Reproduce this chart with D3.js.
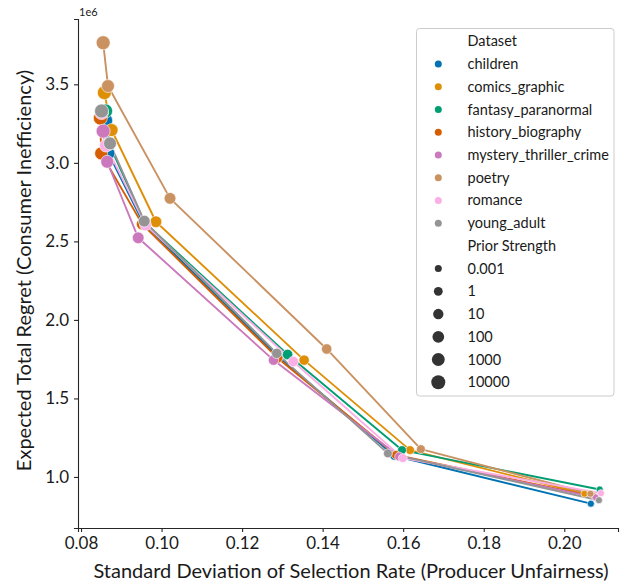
<!DOCTYPE html>
<html>
<head>
<meta charset="utf-8">
<script src="https://cdn.jsdelivr.net/npm/d3@7"></script>
<style>
  html, body { margin: 0; padding: 0; background: #fff; }
  svg { display: block; font-family: Lato, "DejaVu Sans", sans-serif; }
</style>
</head>
<body>
<svg id="chart" width="622" height="583"></svg>
<script>
// Datasets (hue order) and their colours
const datasets = ["children", "comics_graphic", "fantasy_paranormal", "history_biography",
                  "mystery_thriller_crime", "poetry", "romance", "young_adult"];
const palette = ["#0173b2", "#de8f05", "#029e73", "#d55e00",
                 "#cc78bc", "#ca9161", "#fbafe4", "#949494"];

// Prior strengths (size levels); each series below is listed in this order
const priorStrengths = ["0.001", "1", "10", "100", "1000", "10000"];

// Std. dev. of selection rate (producer unfairness)
const stdChildren  = [0.2066, 0.1578, 0.1290, 0.0955, 0.0868, 0.0861];
const stdComics    = [0.2050, 0.1617, 0.1354, 0.0986, 0.0876, 0.0858];
const stdFantasy   = [0.2088, 0.1597, 0.1313, 0.0958, 0.0870, 0.0861];
const stdHistory   = [0.2075, 0.1582, 0.1288, 0.0952, 0.0850, 0.0848];
const stdMystery   = [0.2078, 0.1590, 0.1278, 0.0942, 0.0865, 0.0855];
const stdPoetry    = [0.2065, 0.1644, 0.1410, 0.1021, 0.0867, 0.0855];
const stdRomance   = [0.2091, 0.1599, 0.1327, 0.0960, 0.0862, 0.0851];
const stdYoung     = [0.2086, 0.1562, 0.1286, 0.0957, 0.0872, 0.0851];

// Expected total regret (consumer inefficiency)
const regretChildren = [830000, 1135000, 1765000, 2615000, 3060000, 3270000];
const regretComics   = [893000, 1171000, 1744000, 2625000, 3209000, 3447000];
const regretFantasy  = [920000, 1171000, 1780000, 2620000, 3120000, 3330000];
const regretHistory  = [875000, 1140000, 1758000, 2610000, 3060000, 3285000];
const regretMystery  = [870000, 1130000, 1744000, 2523000, 3007000, 3202000];
const regretPoetry   = [893000, 1177000, 1815000, 2774000, 3489000, 3765000];
const regretRomance  = [897000, 1120000, 1735000, 2605000, 3110000, 3320000];
const regretYoung    = [852000, 1150000, 1787000, 2629000, 3124000, 3330000];

const stdSeries = [stdChildren, stdComics, stdFantasy, stdHistory,
                   stdMystery, stdPoetry, stdRomance, stdYoung];
const regretSeries = [regretChildren, regretComics, regretFantasy, regretHistory,
                      regretMystery, regretPoetry, regretRomance, regretYoung];

const xTicks = [0.08, 0.10, 0.12, 0.14, 0.16, 0.18, 0.20];
const yTicks = [1.0e6, 1.5e6, 2.0e6, 2.5e6, 3.0e6, 3.5e6];

// Long-form table: one row per (dataset, prior strength)
const rows = [];
datasets.forEach((d, i) => {
  priorStrengths.forEach((p, j) => {
    rows.push({ dataset: d, prior: p, x: stdSeries[i][j], y: regretSeries[i][j] });
  });
});

const svg = d3.select("#chart");
const margin = { left: 78, right: 4, top: 19, bottom: 55 };
const W = 622, H = 583;

const x = d3.scaleLinear().domain([0.07925, 0.21334])
  .range([margin.left, W - margin.right]);
const y = d3.scaleLinear().domain([0.675e6, 3.916e6])
  .range([H - margin.bottom, margin.top]);
const color = d3.scaleOrdinal().domain(datasets).range(palette);
const radius = d3.scaleOrdinal().domain(priorStrengths)
  .range(priorStrengths.map((_, i) => Math.sqrt(12.25 + i * (49 - 12.25) / 5)));

const ink = "#262626";

// Axes
const xAxis = svg.append("g")
  .attr("transform", `translate(0,${H - margin.bottom})`)
  .call(d3.axisBottom(x).tickValues(xTicks).tickFormat(d3.format(".2f")).tickSizeOuter(0).tickSize(4).tickPadding(5));
const yAxis = svg.append("g")
  .attr("transform", `translate(${margin.left},0)`)
  .call(d3.axisLeft(y).tickValues(yTicks).tickFormat(v => (v / 1e6).toFixed(1)).tickSizeOuter(0).tickSize(4).tickPadding(5));

[xAxis, yAxis].forEach(g => {
  g.select(".domain").attr("stroke", ink).attr("stroke-width", 1.1);
  g.selectAll(".tick line").attr("stroke", ink).attr("stroke-width", 1.1);
  g.selectAll(".tick text").attr("fill", "#1a1a1a").style("font-size", "17px")
    .style("font-family", "Lato, 'DejaVu Sans', sans-serif");
});

// Offset (scale) text above the y axis
svg.append("text").attr("x", 79).attr("y", 16)
  .style("font-size", "11px").attr("fill", "#1a1a1a").text("1e6");

// Axis titles
svg.append("text")
  .attr("x", (margin.left + W - margin.right) / 2 + 3).attr("y", 578)
  .attr("text-anchor", "middle").style("font-size", "20px").attr("fill", "#1a1a1a")
  .text("Standard Deviation of Selection Rate (Producer Unfairness)");
svg.append("text")
  .attr("transform", `translate(31,${(margin.top + H - margin.bottom) / 2 - 3}) rotate(-90)`)
  .attr("text-anchor", "middle").style("font-size", "20px").attr("fill", "#1a1a1a")
  .text("Expected Total Regret (Consumer Inefficiency)");

// Lines, one per dataset
const line = d3.line().x(d => x(d.x)).y(d => y(d.y));
const plot = svg.append("g");
datasets.forEach(d => {
  plot.append("path")
    .datum(rows.filter(r => r.dataset === d))
    .attr("fill", "none")
    .attr("stroke", color(d))
    .attr("stroke-width", 1.9)
    .attr("stroke-linejoin", "round")
    .attr("d", line);
});

// Points, sized by prior strength
plot.append("g").selectAll("circle").data(rows).join("circle")
  .attr("cx", d => x(d.x)).attr("cy", d => y(d.y))
  .attr("r", d => radius(d.prior))
  .attr("fill", d => color(d.dataset))
  .attr("stroke", "#fff").attr("stroke-width", 0.6);

// Legend
const lg = svg.append("g");
lg.append("rect").attr("x", 416.5).attr("y", 28.5).attr("width", 197.5).attr("height", 367.5)
  .attr("rx", 3).attr("fill", "#fff").attr("fill-opacity", 0.8)
  .attr("stroke", "#cccccc").attr("stroke-width", 1);

const legendItems = [{ label: "Dataset", title: true }]
  .concat(datasets.map(d => ({ label: d, fill: color(d), r: 3.5 })))
  .concat([{ label: "Prior Strength", title: true }])
  .concat(priorStrengths.map(p => ({ label: p, fill: "#333333", r: radius(p) })));

const rowY0 = 41.3, rowStep = 22.73;
const item = lg.selectAll("g.item").data(legendItems).join("g")
  .attr("class", "item")
  .attr("transform", (d, i) => `translate(0,${rowY0 + i * rowStep})`);
item.filter(d => !d.title).append("circle")
  .attr("cx", 438.3).attr("cy", 0).attr("r", d => d.r).attr("fill", d => d.fill);
item.append("text").attr("x", 467.5).attr("y", 0).attr("dy", "0.35em")
  .style("font-size", "14.5px").attr("fill", "#1a1a1a").text(d => d.label);
</script>
</body>
</html>
